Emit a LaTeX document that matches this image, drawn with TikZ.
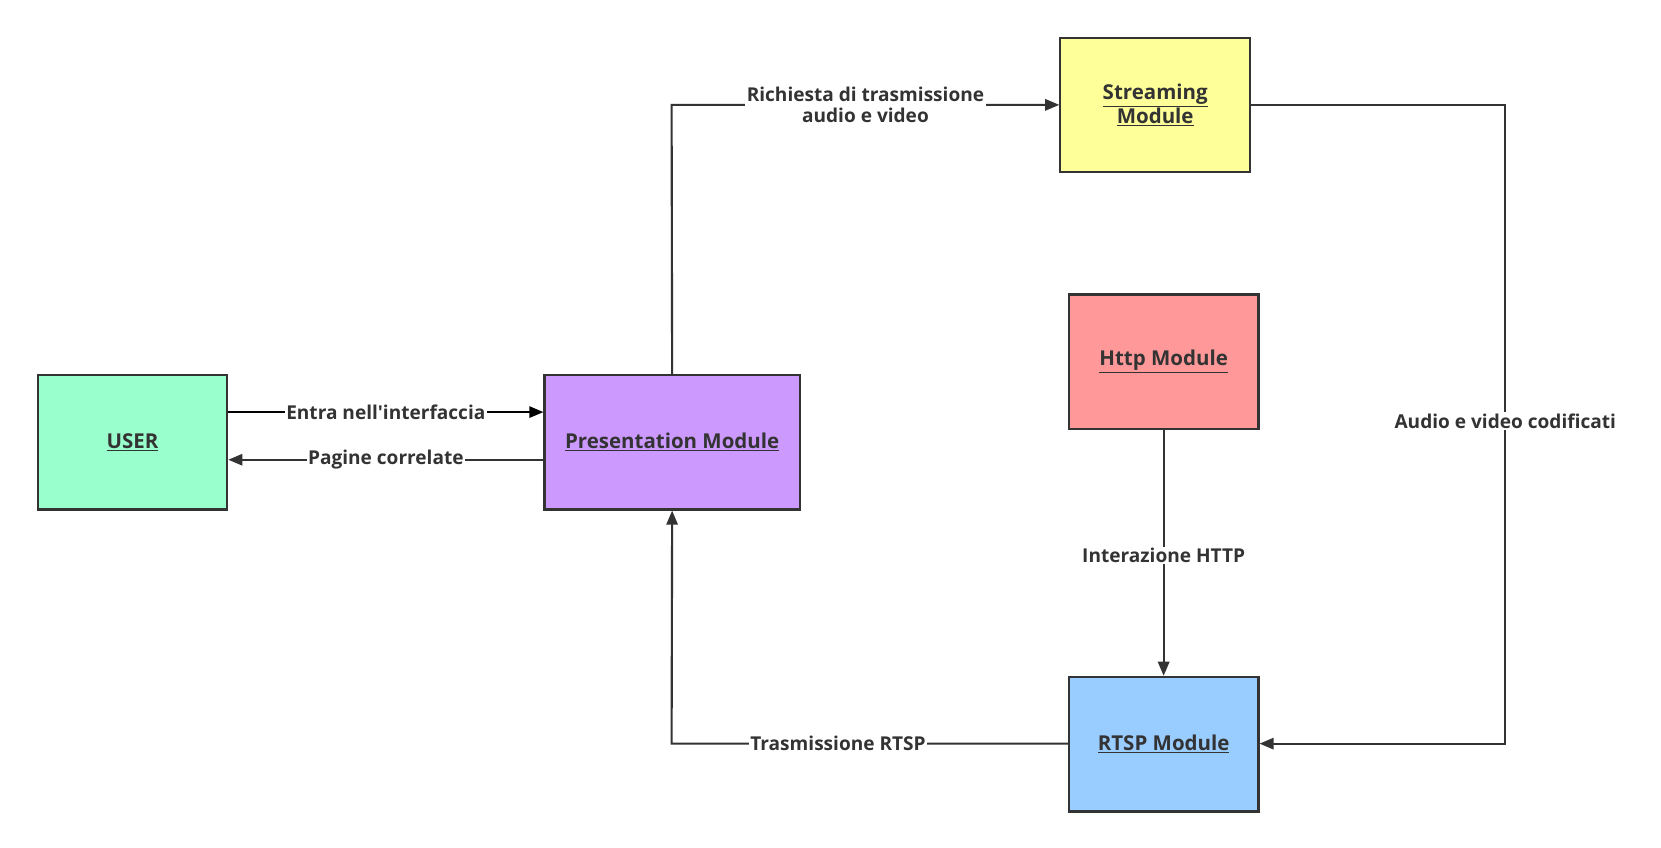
\documentclass[tikz,border=0pt]{standalone}
\usepackage{fontspec}
\setmainfont{Open Sans}
\usetikzlibrary{arrows.meta}
\definecolor{ln}{HTML}{333333}
\begin{document}
\begin{tikzpicture}[x=0.75pt,y=-0.75pt,
  box/.style={draw=ln,line width=1.5pt,minimum width=179*0.75pt,minimum height=127*0.75pt,inner sep=0pt,font=\fontsize{14.5}{17}\selectfont\bfseries,text=ln},
  conn/.style={draw=ln,line width=1.5pt,-{Triangle[length=10pt,width=8pt]}},
  lab/.style={fill=white,inner sep=1pt,font=\fontsize{13.5}{15.5}\selectfont\bfseries,text=ln,align=center}]
\useasboundingbox (0,0) rectangle (1568,800);
\node[box,fill={rgb,255:red,153;green,255;blue,204}] (user) at (125,417.5) {\underline{USER}};
\node[box,minimum width=241*0.75pt,fill={rgb,255:red,204;green,153;blue,255}] (pres) at (634.5,417.5) {\underline{Presentation Module}};
\node[box,align=center,fill={rgb,255:red,255;green,255;blue,153}] (stream) at (1090.5,99) {\underline{Streaming}\\\underline{Module}};
\node[box,fill={rgb,255:red,255;green,153;blue,153}] (http) at (1098.5,341.5) {\underline{Http Module}};
\node[box,fill={rgb,255:red,153;green,204;blue,255}] (rtsp) at (1098.5,702.5) {\underline{RTSP Module}};
\coordinate (c1) at (634,99);
\coordinate (c2) at (1421,99);
\coordinate (c3) at (1421,702);
\coordinate (c4) at (634,702);
\draw[conn,draw=black] (user.east |- 0,389) -- node[lab]{Entra nell\textquotesingle interfaccia} (pres.west |- 0,389);
\draw[conn] (pres.west |- 0,434) -- node[lab]{Pagine correlate} (user.east |- 0,434);
\draw[conn] (pres.north) -- (c1) -- node[lab]{Richiesta di trasmissione\\audio e video} (stream.west |- c1);
\draw[conn] (stream.east |- c2) -- (c2) -- node[lab,pos=0.495]{Audio e video codificati} (c3) -- (rtsp.east |- c3);
\draw[conn] (http.south) -- node[lab,pos=0.51]{Interazione HTTP} (rtsp.north);
\draw[conn] (rtsp.west |- c4) -- node[lab,pos=0.58]{Trasmissione RTSP} (c4) -- (pres.south);
\end{tikzpicture}
\end{document}
